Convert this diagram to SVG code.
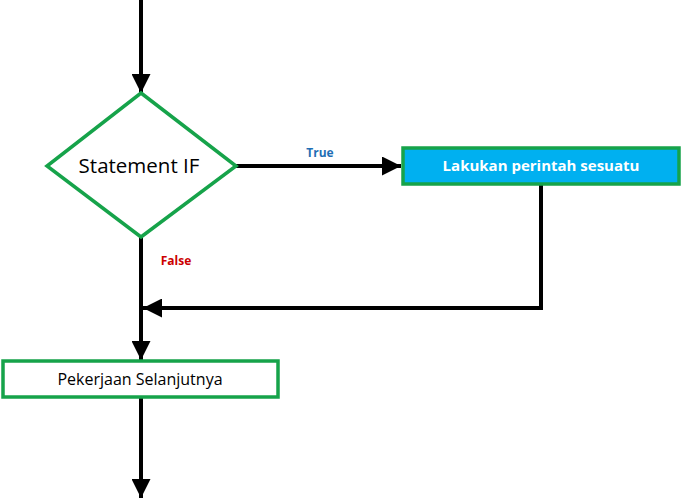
<svg xmlns="http://www.w3.org/2000/svg" width="682" height="500" viewBox="0 0 682 500">
<style>
.ln{fill:none;stroke:#000;stroke-width:4}
.node{stroke:#16a34a;stroke-width:3.5}
text{font-family:"Open Sans","Liberation Sans",sans-serif}
</style>
<defs>
<marker id="ah" viewBox="0 0 10 10" refX="10" refY="5" markerWidth="22" markerHeight="19" markerUnits="userSpaceOnUse" orient="auto">
<path d="M0,0 L10,5 L0,10 z" fill="#000"/>
</marker>
</defs>
<rect width="682" height="500" fill="#fff"/>
<g id="connectors">
<line class="ln" x1="141" y1="0" x2="141" y2="93" marker-end="url(#ah)"/>
<line class="ln" x1="236" y1="166" x2="401" y2="166" marker-end="url(#ah)"/>
<polyline class="ln" points="541,185 541,308 143,308" marker-end="url(#ah)"/>
<line class="ln" x1="141" y1="237" x2="141" y2="360" marker-end="url(#ah)"/>
<line class="ln" x1="141" y1="398" x2="141" y2="498" marker-end="url(#ah)"/>
<text x="320" y="157" font-size="12" font-weight="bold" fill="#1f6fb5" text-anchor="middle">True</text>
<text x="176" y="265" font-size="12" font-weight="bold" fill="#cc0000" text-anchor="middle">False</text>
</g>
<g id="decision">
<polygon class="node" points="141,93 236,166 141,237 47,166" fill="#fff"/>
<text x="139" y="173" font-size="20.5" text-anchor="middle" fill="#000">Statement IF</text>
</g>
<g id="action">
<rect class="node" x="403" y="148" width="276" height="36" fill="#00b0f0"/>
<text x="541" y="171" font-size="15" font-weight="bold" text-anchor="middle" fill="#fff">Lakukan perintah sesuatu</text>
</g>
<g id="next">
<rect class="node" x="3" y="361" width="275" height="36" fill="#fff"/>
<text x="140" y="385" font-size="16" text-anchor="middle" fill="#000">Pekerjaan Selanjutnya</text>
</g>
</svg>
